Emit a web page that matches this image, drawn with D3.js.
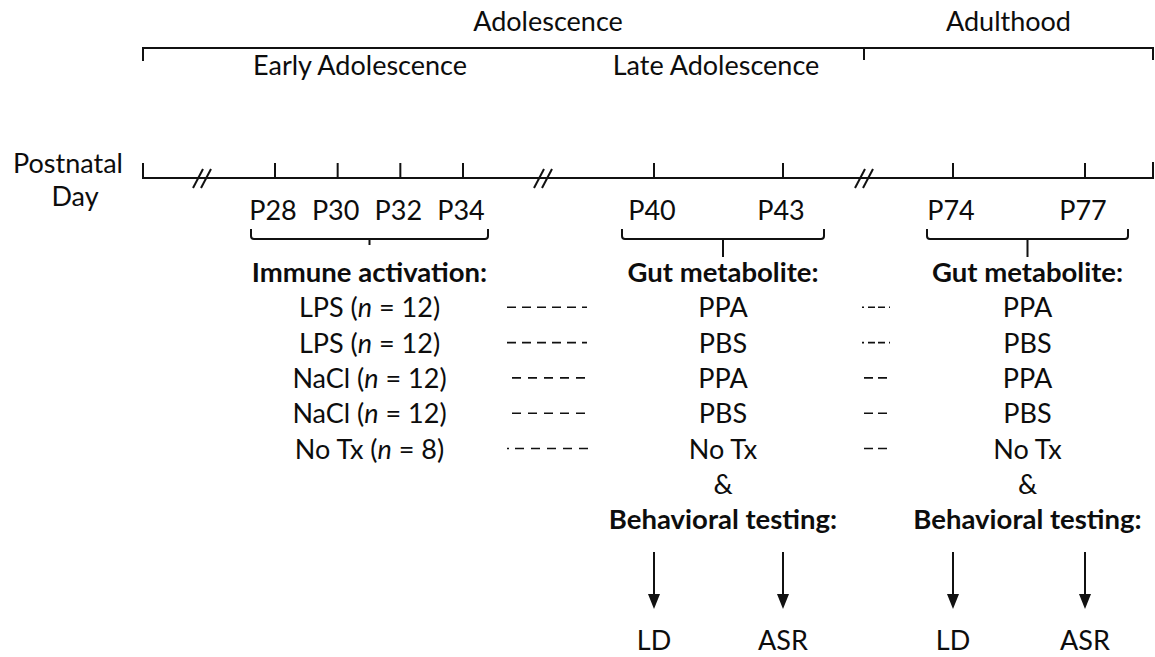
<!DOCTYPE html>
<html>
<head>
<meta charset="utf-8">
<script src="https://cdn.jsdelivr.net/npm/d3@7"></script>
<style>
  body { margin: 0; background: #fff; }
  text { font-family: Lato, "Open Sans", sans-serif; fill: #0d0d0d; }
</style>
</head>
<body>
<div id="chart"></div>
<script>
// timeline data
const dayTicks = [28, 30, 32, 34, 40, 43, 74, 77];
const breakDays = [24, 37, 58];
const periods = ["Adolescence", "Adulthood"];
const subPeriods = ["Early Adolescence", "Late Adolescence"];

// groups
const immuneTx = ["LPS", "LPS", "NaCl", "NaCl", "No Tx"];
const groupN = [12, 12, 12, 12, 8];
const metabolite = ["PPA", "PBS", "PPA", "PBS", "No Tx"];
const tests = ["LD", "ASR"];

const width = 1155;
const height = 657;

// piecewise day scale (the axis has breaks, so spacing is not uniform)
const x = d3.scaleLinear()
  .domain([21, 24, 28, 34, 37, 40, 43, 58, 74, 77, 80])
  .range([143, 202, 275, 463, 543, 654, 783, 864, 953, 1085, 1153]);

const axisY = 178;
const topY = 48;
const fs = 27;
const fsBold = 27.5;
const rowStep = 35.3;
const headY = 282;
const rowY = i => headY + rowStep * (i + 1);

const svg = d3.select("#chart").append("svg")
  .attr("width", width)
  .attr("height", height);

const ink = "#111";

// ---- top period bracket ----
const periodBr = svg.append("g").attr("stroke", ink).attr("stroke-width", 2).attr("fill", "none");
periodBr.append("path")
  .attr("d", `M${x(21)},${topY + 13}V${topY}H${x(80)}V${topY + 12}`);
periodBr.append("line")
  .attr("x1", x(58)).attr("x2", x(58))
  .attr("y1", topY).attr("y2", topY + 12);

svg.append("text").attr("x", 548).attr("y", 31)
  .attr("text-anchor", "middle").style("font-size", fs + "px").text(periods[0]);
svg.append("text").attr("x", (x(58) + x(80)) / 2).attr("y", 31)
  .attr("text-anchor", "middle").style("font-size", fs + "px").text(periods[1]);
svg.append("text").attr("x", 360).attr("y", 75)
  .attr("text-anchor", "middle").style("font-size", fs + "px").text(subPeriods[0]);
svg.append("text").attr("x", 716).attr("y", 75)
  .attr("text-anchor", "middle").style("font-size", fs + "px").text(subPeriods[1]);

// ---- axis ----
svg.append("text").attr("x", 68).attr("y", 173)
  .attr("text-anchor", "middle").style("font-size", fs + "px").text("Postnatal");
svg.append("text").attr("x", 75).attr("y", 206)
  .attr("text-anchor", "middle").style("font-size", fs + "px").text("Day");

const axis = svg.append("g").attr("stroke", ink).attr("stroke-width", 2).attr("fill", "none");
axis.append("path")
  .attr("d", `M${x(21)},${axisY - 15}V${axisY}H${x(80)}V${axisY - 16}`);
axis.selectAll(".tick")
  .data(dayTicks)
  .join("line")
  .attr("x1", d => x(d)).attr("x2", d => x(d))
  .attr("y1", axisY).attr("y2", axisY - 15);

// break marks
axis.selectAll(".brk")
  .data(breakDays.flatMap(b => [-4, 4].map(o => ({ b, o }))))
  .join("line")
  .attr("x1", d => x(d.b) + d.o - 5).attr("y1", axisY + 10)
  .attr("x2", d => x(d.b) + d.o + 5).attr("y2", axisY - 9);

svg.selectAll(".daylab")
  .data(dayTicks)
  .join("text")
  .attr("x", d => x(d) - 2).attr("y", 220)
  .attr("text-anchor", "middle").style("font-size", fs + "px")
  .text(d => "P" + d);

// ---- treatment windows ----
const windows = [
  { from: 28, to: 34, pad: [24, 25], stem: 6, title: "Immune activation:" },
  { from: 40, to: 43, pad: [32, 41], stem: 18, title: "Gut metabolite:" },
  { from: 74, to: 77, pad: [26, 43], stem: 18, title: "Gut metabolite:" }
];
windows.forEach(w => {
  w.x0 = x(w.from) - w.pad[0];
  w.x1 = x(w.to) + w.pad[1];
  w.cx = (w.x0 + w.x1) / 2;
});

const br = svg.append("g").attr("stroke", ink).attr("stroke-width", 2).attr("fill", "none");
br.selectAll("path")
  .data(windows)
  .join("path")
  .attr("d", d => `M${d.x0},229V236Q${d.x0},239 ${d.x0 + 3},239H${d.x1 - 3}Q${d.x1},239 ${d.x1},236V229` +
    `M${d.cx},239V${239 + d.stem}`);

svg.selectAll(".wtitle")
  .data(windows)
  .join("text")
  .attr("x", d => d.cx).attr("y", headY)
  .attr("text-anchor", "middle")
  .style("font-size", fsBold + "px").style("font-weight", "bold")
  .text(d => d.title);

// immune rows
const immuneRows = svg.selectAll(".imm")
  .data(immuneTx)
  .join("text")
  .attr("x", windows[0].cx).attr("y", (d, i) => rowY(i))
  .attr("text-anchor", "middle").style("font-size", fs + "px");
immuneRows.append("tspan").text(d => d + " (");
immuneRows.append("tspan").style("font-style", "italic").text("n");
immuneRows.append("tspan").text((d, i) => " = " + groupN[i] + ")");

// metabolite rows in both later windows
[windows[1], windows[2]].forEach(w => {
  svg.append("g").selectAll("text")
    .data(metabolite)
    .join("text")
    .attr("x", w.cx).attr("y", (d, i) => rowY(i))
    .attr("text-anchor", "middle").style("font-size", fs + "px")
    .text(d => d);
  svg.append("text").attr("x", w.cx).attr("y", rowY(5))
    .attr("text-anchor", "middle").style("font-size", fs + "px").text("&");
  svg.append("text").attr("x", w.cx).attr("y", rowY(6))
    .attr("text-anchor", "middle").style("font-size", fsBold + "px")
    .style("font-weight", "bold").text("Behavioral testing:");
});

// dashed connectors between columns
const conn1 = [
  { a: 507, b: 587, dash: "9,6" },
  { a: 507, b: 587, dash: "9,6" },
  { a: 512, b: 585, dash: "9,7" },
  { a: 512, b: 585, dash: "9,7" },
  { a: 507, b: 592, dash: "2,6,9,7,9,7,9,7,9,7,9,7" }
];
const conn2 = [
  { a: 862, b: 890, dash: "2,4,7,3,7,4,2" },
  { a: 862, b: 890, dash: "2,4,7,3,7,4,2" },
  { a: 864, b: 887, dash: "9,5" },
  { a: 864, b: 887, dash: "9,5" },
  { a: 864, b: 887, dash: "9,5" }
];
[conn1, conn2].forEach(c => {
  svg.append("g").selectAll("line")
    .data(c)
    .join("line")
    .attr("x1", d => d.a).attr("x2", d => d.b)
    .attr("y1", (d, i) => rowY(i) - 10).attr("y2", (d, i) => rowY(i) - 10)
    .attr("stroke", ink).attr("stroke-width", 1.6)
    .attr("stroke-dasharray", d => d.dash);
});

// ---- behavioural test arrows ----
const arrowDays = [[40, 43], [74, 77]].flatMap(p => p.map((d, j) => ({ d, test: tests[j] })));
const arr = svg.append("g");
arr.selectAll("line")
  .data(arrowDays)
  .join("line")
  .attr("x1", d => x(d.d)).attr("x2", d => x(d.d))
  .attr("y1", 552).attr("y2", 596)
  .attr("stroke", ink).attr("stroke-width", 2);
arr.selectAll("path")
  .data(arrowDays)
  .join("path")
  .attr("d", d => `M${x(d.d) - 6},594L${x(d.d) + 6},594L${x(d.d)},609Z`)
  .attr("fill", ink);
svg.selectAll(".test")
  .data(arrowDays)
  .join("text")
  .attr("x", d => x(d.d)).attr("y", 650)
  .attr("text-anchor", "middle").style("font-size", fs + "px")
  .text(d => d.test);
</script>
</body>
</html>
